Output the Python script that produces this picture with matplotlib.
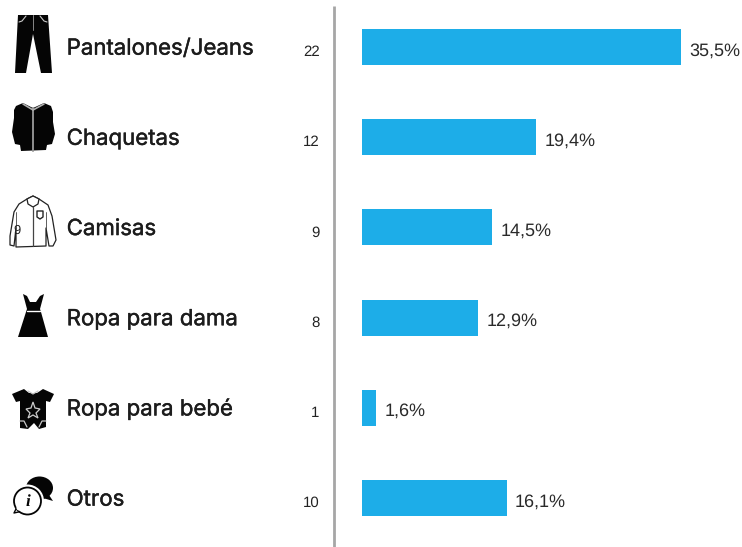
import matplotlib
matplotlib.use('Agg')
import matplotlib.pyplot as plt
from matplotlib.patches import Polygon, Circle, Ellipse
import matplotlib.patheffects as pe

plt.rcParams['font.family'] = ['Liberation Sans', 'DejaVu Sans']
plt.rcParams['text.hinting'] = 'none'
plt.rcParams['text.hinting_factor'] = 1

categories = ['Pantalones/Jeans', 'Chaquetas', 'Camisas', 'Ropa para dama', 'Ropa para bebé', 'Otros']
counts = [22, 12, 9, 8, 1, 10]
percents = [35.5, 19.4, 14.5, 12.9, 1.6, 16.1]
percent_labels = ['35,5%', '19,4%', '14,5%', '12,9%', '1,6%', '16,1%']

W, H = 742, 547
fig = plt.figure(figsize=(W / 100, H / 100), dpi=100, facecolor='white')

# bars: x is percent, y is row number, axes fill the whole figure
px_per_pct = 8.986
px_per_row = 90.2
ax = fig.add_axes([0, 0, 1, 1])
ax.set_xlim(-362 / px_per_pct, (W - 362) / px_per_pct)
ax.set_ylim((H - 47) / px_per_row, -47 / px_per_row)
ax.axis('off')

rows = list(range(len(categories)))
ax.barh(rows, percents, height=0.4, color='#1dade8')
bold = [pe.withStroke(linewidth=0.3, foreground='#1c1c1c')]
for r, p, lab in zip(rows, percents, percent_labels):
    ax.annotate(lab, (p, r), xytext=(6, -6), textcoords='offset points', va='baseline',
                ha='left', fontsize=12.8, color='#2a2a2a')
    ax.annotate(categories[r], (-362 / px_per_pct, r), xytext=(48, -5.5), textcoords='offset points',
                va='baseline', ha='left', fontsize=16, family=['Inter', 'DejaVu Sans'], color='#1c1c1c',
                path_effects=bold)
    ax.annotate(str(counts[r]), (-43 / px_per_pct, r), xytext=(0.5, -6.5), textcoords='offset points',
                va='baseline', ha='right', fontsize=10.6, color='#222222')

# icons and divider, drawn in pixel coords
ov = fig.add_axes([0, 0, 1, 1])
ov.set_xlim(0, W)
ov.set_ylim(H, 0)
ov.axis('off')
ov.patch.set_alpha(0)
ov.plot([333.5, 333.5], [6, 547], color='#a6a6a6', lw=2.0, solid_capstyle='butt')

K = '#050505'


def poly(pts, fc=K, ec='none', lw=0):
    ov.add_patch(Polygon(pts, closed=True, fc=fc, ec=ec, lw=lw, joinstyle='round'))


def line(xs, ys, c='#c8c8c8', lw=0.9):
    ov.plot(xs, ys, color=c, lw=lw, solid_capstyle='round')


# pants
poly([(18, 15), (48, 15), (52, 73), (41, 73), (33, 34), (26, 73), (15, 73)])
line([33, 33], [15, 30], c='#888888', lw=0.7)
line([19, 22, 26], [22, 21, 16], lw=0.8)
line([47, 44, 40], [22, 21, 16], lw=0.8)

# jacket
poly([(23, 103), (33, 108), (44, 103), (51, 106), (53, 112), (53, 122), (55, 134), (52, 144), (47, 145),
      (46, 150), (21, 151), (20, 145), (15, 144), (12, 132), (14, 118), (14, 110), (16, 106)])
line([33, 33], [108, 151], c='#909090', lw=1.4)
line([23, 33, 44], [104, 110, 104], c='#b0b0b0', lw=1.2)

# shirt
sh = dict(fc='white', ec='#222222', lw=0.9)
poly([(27, 199), (33, 196), (39, 199), (48, 205), (52, 216), (56, 240), (53, 246), (49, 246), (46, 228),
      (46, 246), (16, 247), (16, 228), (14, 246), (10, 245), (10, 236), (14, 212), (19, 204)], **sh)
poly([(27, 199), (33, 196), (39, 199), (38, 204), (33, 207), (28, 204)], **sh)
line([33, 33], [207, 246], c='#444444', lw=0.9)
line([16, 16], [212, 228], c='#444444', lw=0.6)
line([46, 46], [212, 228], c='#444444', lw=0.6)
poly([(37, 211), (43, 211), (43, 217), (40, 219), (37, 217)], fc='white', ec='#222222', lw=1.0)
ov.text(17, 231, '9', fontsize=9, ha='center', va='center', color='#222222')

# dress
poly([(23, 294), (27, 296), (30, 302), (36, 302), (40, 296), (44, 294), (40, 309), (41, 312),
      (48, 337), (18, 337), (26, 312), (27, 309)])
line([27, 40], [311, 311], c='white', lw=1.0)

# onesie
poly([(24, 389), (29, 393), (37, 393), (43, 389), (54, 394), (50, 402), (46, 401), (46, 427),
      (39, 429), (34, 423), (28, 429), (20, 428), (20, 401), (16, 402), (12, 394)])
ov.add_patch(Polygon([(33, 402), (35, 408), (40, 409), (36, 413), (38, 418), (33, 415), (28, 418),
                      (30, 413), (26, 409), (31, 408)], closed=True, fc='none', ec='#cccccc', lw=0.9))
line([28, 33, 38], [391, 394, 391], lw=0.9)
line([20, 24, 27], [421, 421, 427], lw=0.9)
line([46, 42, 39], [421, 421, 427], lw=0.9)

# speech bubbles
ov.add_patch(Ellipse((39.5, 488), 27, 23, fc=K, ec='none'))
poly([(47, 492), (53, 501), (43, 498)])
ov.add_patch(Circle((27.5, 501), 16.5, fc='white', ec='none'))
poly([(17, 507), (14, 513), (23, 511)], fc='white', ec=K, lw=1.0)
ov.add_patch(Circle((27.5, 501), 13.5, fc='white', ec=K, lw=1.3))
ov.add_patch(Circle((19, 508), 2.5, fc='white', ec='none'))
ov.text(27.5, 502, 'i', fontsize=12, family='Liberation Serif', style='italic', weight='bold',
        ha='center', va='center', color=K)

fig.savefig('out.png', dpi=100)
